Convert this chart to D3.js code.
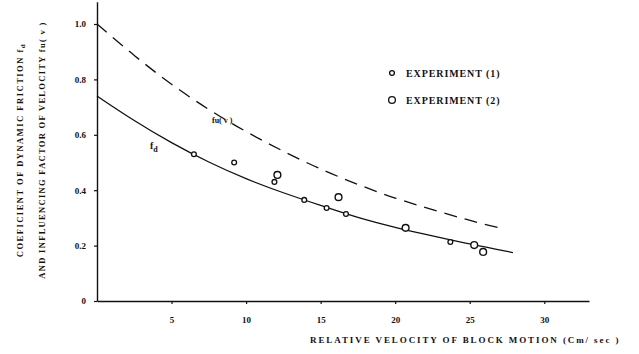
<!DOCTYPE html>
<html>
<head>
<meta charset="utf-8">
<script src="https://cdn.jsdelivr.net/npm/d3@7"></script>
<style>
  body { margin: 0; background: #fff; }
  svg text { font-family: "Liberation Serif", serif; font-weight: bold; fill: #111; }
</style>
</head>
<body>
<svg id="chart" width="639" height="354"></svg>
<script>
// Curves
const fdVel = [0, 2.5, 5, 7.5, 10, 12.5, 15, 17.5, 20, 22.5, 25, 27.9];
const fdVal = [0.74, 0.65, 0.57, 0.50, 0.44, 0.39, 0.345, 0.30, 0.265, 0.235, 0.205, 0.175];
const fuVel = [0, 2.5, 5, 7.5, 10, 12.5, 15, 17.5, 20, 22.5, 25, 27.3];
const fuVal = [1.0, 0.885, 0.78, 0.69, 0.61, 0.54, 0.475, 0.42, 0.37, 0.33, 0.29, 0.26];

// Experimental points
const exp1Vel = [6.5, 9.2, 11.9, 13.9, 15.4, 16.7, 23.7];
const exp1Val = [0.53, 0.50, 0.43, 0.365, 0.336, 0.314, 0.213];
const exp2Vel = [12.1, 16.2, 20.7, 25.3, 25.9];
const exp2Val = [0.455, 0.375, 0.264, 0.202, 0.177];

// Tick labels
const xTicks = [5, 10, 15, 20, 25, 30];
const yTicks = [0, 0.2, 0.4, 0.6, 0.8, 1.0];
const yTickLabels = ["0", "0.2", "0.4", "0.6", "0.8", "1.0"];

const svg = d3.select("#chart");

// Scales
const x = d3.scaleLinear().domain([0, 33]).range([97, 589]);
const y = d3.scaleLinear().domain([0, 1.08]).range([301, 301 - 277 * 1.08]);

// Axes
const xAxis = svg.append("g")
    .attr("transform", "translate(0," + y(0) + ")")
    .call(d3.axisBottom(x).tickValues(xTicks).tickSize(3).tickSizeOuter(0).tickPadding(13));
const yAxis = svg.append("g")
    .attr("transform", "translate(" + x(0) + ",0)")
    .call(d3.axisLeft(y).tickValues(yTicks).tickSize(3).tickSizeOuter(0).tickPadding(8)
        .tickFormat((d, i) => yTickLabels[i]));

[xAxis, yAxis].forEach(g => {
    g.select(".domain").attr("stroke", "#111").attr("stroke-width", 1.4);
    g.selectAll(".tick line").attr("stroke", "#111").attr("stroke-width", 1.2);
    g.selectAll(".tick text").style("font-family", "Liberation Serif").style("font-weight", "bold")
        .style("font-size", "9px").attr("fill", "#111");
});

// Curves
const line = d3.line().x(d => x(d[0])).y(d => y(d[1])).curve(d3.curveBasis);

svg.append("path")
    .datum(d3.zip(fdVel, fdVal))
    .attr("fill", "none")
    .attr("stroke", "#111")
    .attr("stroke-width", 1.3)
    .attr("d", line);

svg.append("path")
    .datum(d3.zip(fuVel, fuVal))
    .attr("fill", "none")
    .attr("stroke", "#111")
    .attr("stroke-width", 1.3)
    .attr("stroke-dasharray", "13,8")
    .attr("d", line);

// Points
svg.selectAll(".exp1")
    .data(d3.zip(exp1Vel, exp1Val))
    .enter().append("circle")
    .attr("cx", d => x(d[0]))
    .attr("cy", d => y(d[1]))
    .attr("r", 2.4)
    .attr("fill", "#fff")
    .attr("stroke", "#111")
    .attr("stroke-width", 1.3);

svg.selectAll(".exp2")
    .data(d3.zip(exp2Vel, exp2Val))
    .enter().append("circle")
    .attr("cx", d => x(d[0]))
    .attr("cy", d => y(d[1]))
    .attr("r", 3.4)
    .attr("fill", "#fff")
    .attr("stroke", "#111")
    .attr("stroke-width", 1.4);

// Curve labels
const fdLabel = svg.append("text").attr("x", 150).attr("y", 149).style("font-size", "10px");
fdLabel.append("tspan").text("f");
fdLabel.append("tspan").attr("dy", 3).style("font-size", "8px").text("d");

svg.append("text").attr("x", 212).attr("y", 123).style("font-size", "8px").text("fu( v )");

// Legend
const legend = [["EXPERIMENT (1)", 2.4, 73], ["EXPERIMENT (2)", 3.4, 100]];
legend.forEach(([label, r, ly]) => {
    svg.append("circle").attr("cx", 392).attr("cy", ly).attr("r", r)
        .attr("fill", "#fff").attr("stroke", "#111").attr("stroke-width", 1.3);
    svg.append("text").attr("x", 406).attr("y", ly + 4)
        .style("font-size", "10px").style("letter-spacing", "0.9px").text(label);
});

// Axis titles
svg.append("text")
    .attr("x", 310).attr("y", 343)
    .style("font-size", "9px").style("letter-spacing", "1.9px")
    .text("RELATIVE VELOCITY OF BLOCK MOTION  (Cm/ sec )");

const yTitle1 = svg.append("text")
    .attr("transform", "translate(23,150) rotate(-90)")
    .attr("text-anchor", "middle")
    .style("font-size", "8.5px").style("letter-spacing", "1.5px");
yTitle1.append("tspan").text("COEFICIENT OF DYNAMIC FRICTION   f");
yTitle1.append("tspan").attr("dy", 2).style("font-size", "7px").text("d");

svg.append("text")
    .attr("transform", "translate(45,150) rotate(-90)")
    .attr("text-anchor", "middle")
    .style("font-size", "8.5px").style("letter-spacing", "1.3px")
    .text("AND INFLUENCING FACTOR OF VELOCITY  fu( v )");
</script>
</body>
</html>
